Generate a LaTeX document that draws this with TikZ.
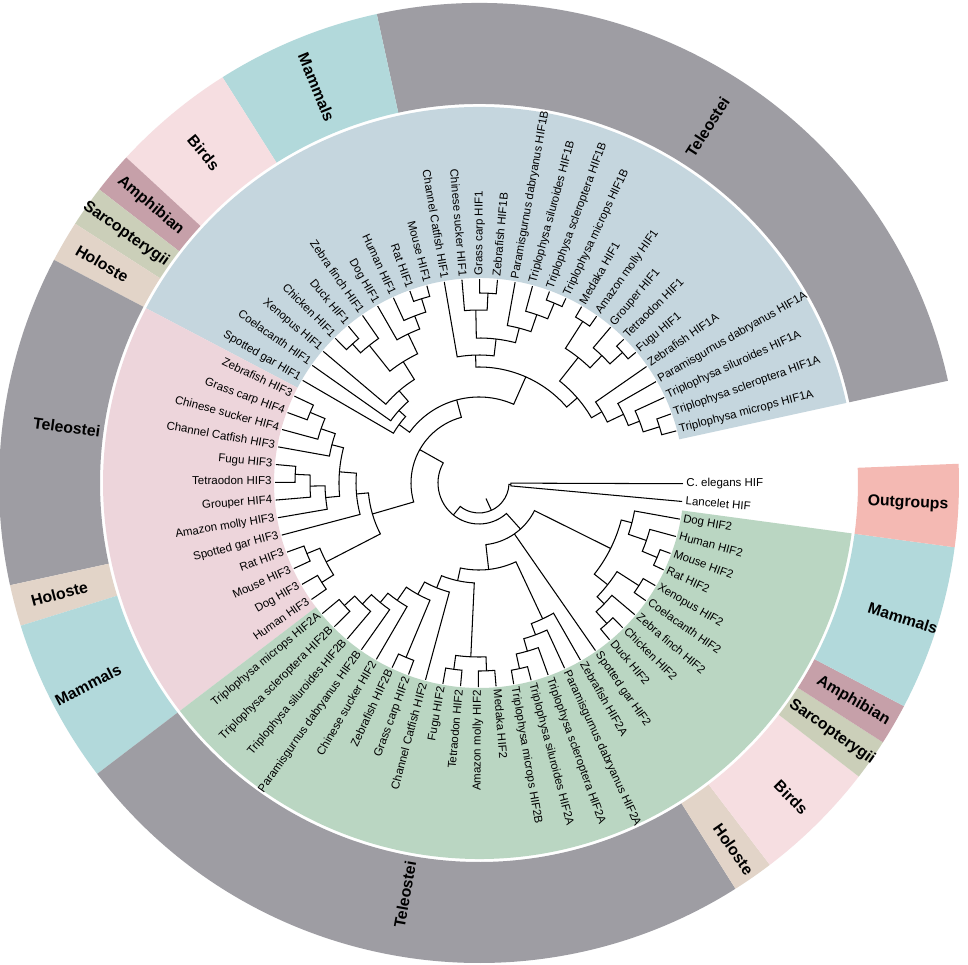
\documentclass[tikz,border=0pt]{standalone}
\usepackage{fontspec}
\setmainfont{Liberation Sans}
\definecolor{secB}{HTML}{C5D6DE}
\definecolor{secP}{HTML}{EDD5DB}
\definecolor{secG}{HTML}{BAD6C2}
\definecolor{rTel}{HTML}{9E9DA3}
\definecolor{rMam}{HTML}{B2D9DB}
\definecolor{rBird}{HTML}{F6DEE1}
\definecolor{rAmph}{HTML}{C6A0A9}
\definecolor{rSarc}{HTML}{CBCFB9}
\definecolor{rHol}{HTML}{E2D4C8}
\definecolor{rOut}{HTML}{F4B9B3}
\tikzset{
  branch/.style={draw=black, line width=1.05pt, line join=miter},
  leaflbl/.style={inner sep=0pt, outer sep=0pt, font=\fontsize{11.5}{13}\selectfont},
  ringlbl/.style={inner sep=0pt, font=\bfseries\fontsize{15.8}{18}\selectfont}
}
\makeatletter
\newcommand\leafR{204}
\newcommand\nang[1]{\csname ta@#1\endcsname}
\newcommand\leaf[3]{%
  \pgfmathsetmacro\lf@a{14.8+5*#2}%
  \expandafter\xdef\csname ta@#1\endcsname{\lf@a}%
  \coordinate (#1) at (\lf@a:\leafR);
  \pgfmathtruncatemacro\lf@flip{(\lf@a>90)&&(\lf@a<270)}%
  \ifnum\lf@flip=1
    \pgfmathsetmacro\lf@rot{\lf@a-180}%
    \node[leaflbl, rotate=\lf@rot, anchor=mid east] (#1-l) at (\lf@a:\leafR+3.5) {#3};
  \else
    \node[leaflbl, rotate=\lf@a, anchor=mid west] (#1-l) at (\lf@a:\leafR+3.5) {#3};
  \fi
}
% \clade[angle override]{name}{child1}{child2}{radius}
\newcommand\clade[5][]{%
  \if\relax\detokenize{#1}\relax
    \pgfmathsetmacro\cl@a{(\nang{#3}+\nang{#4})/2}%
  \else
    \def\cl@a{#1}%
  \fi
  \expandafter\xdef\csname ta@#2\endcsname{\cl@a}%
  \coordinate (#3-b) at (\nang{#3}:#5);
  \coordinate (#4-b) at (\nang{#4}:#5);
  \draw[branch] (#3) -- (#3-b) arc[start angle=\nang{#3}, end angle=\nang{#4}, radius=#5] -- (#4);
  \coordinate (#2) at (\cl@a:#5);
}
% \cladeIII[angle]{name}{c1}{c2}{c3}{radius}
\newcommand\cladeIII[6][]{%
  \if\relax\detokenize{#1}\relax
    \pgfmathsetmacro\cl@a{(\nang{#3}+\nang{#5})/2}%
  \else
    \def\cl@a{#1}%
  \fi
  \expandafter\xdef\csname ta@#2\endcsname{\cl@a}%
  \coordinate (#3-b) at (\nang{#3}:#6);
  \coordinate (#4-b) at (\nang{#4}:#6);
  \coordinate (#5-b) at (\nang{#5}:#6);
  \draw[branch] (#3) -- (#3-b) arc[start angle=\nang{#3}, end angle=\nang{#5}, radius=#6] -- (#5);
  \draw[branch] (#4-b) -- (#4);
  \coordinate (#2) at (\cl@a:#6);
}
\newcommand\sector[5]{%
  \fill[#5] (#1:#3) arc[start angle=#1, end angle=#2, radius=#3] -- (#2:#4) arc[start angle=#2, end angle=#1, radius=#4] -- cycle;
}
% \ringseg{name}{a1}{a2}{colour}{label}{label radius}
\newcommand\ringseg[6]{%
  \sector{#2}{#3}{379}{480}{#4}
  \pgfmathsetmacro\rg@m{(#2+#3)/2}%
  \pgfmathtruncatemacro\rg@f{(\rg@m>90)&&(\rg@m<270)}%
  \ifnum\rg@f=1 \pgfmathsetmacro\rg@r{\rg@m-180}\else\pgfmathsetmacro\rg@r{\rg@m}\fi
  \node[ringlbl, rotate=\rg@r] (#1) at (\rg@m:#6) {#5};
}
\makeatother
\begin{document}
\begin{tikzpicture}[x=1pt,y=1pt]
\fill[white] (-479,-481) rectangle (489,483);
\useasboundingbox (-479,-481) rectangle (489,483);
% inner coloured sectors
\sector{12.3}{152.3}{205}{376}{secB}
\sector{152.3}{217.3}{205}{376}{secP}
\sector{217.3}{352.3}{205}{376}{secG}
% outer ring
\ringseg{g1}{12.3}{102.3}{rTel}{Teleostei}{423}
\ringseg{g2}{102.3}{122.3}{rMam}{Mammals}{428}
\ringseg{g3}{122.3}{137.3}{rBird}{Birds}{430}
\ringseg{g4}{137.3}{142.3}{rAmph}{Amphibian}{430}
\ringseg{g5}{142.3}{147.3}{rSarc}{Sarcopterygii}{432}
\ringseg{g6}{147.3}{152.3}{rHol}{Holoste}{436}
\ringseg{g7}{152.3}{192.3}{rTel}{Teleostei}{416}
\ringseg{g8}{192.3}{197.3}{rHol}{Holoste}{434}
\ringseg{g9}{197.3}{217.3}{rMam}{Mammals}{440}
\ringseg{g10}{217.3}{302.3}{rTel}{Teleostei}{418}
\ringseg{g11}{302.3}{307.3}{rHol}{Holoste}{446}
\ringseg{g12}{307.3}{322.3}{rBird}{Birds}{443}
\ringseg{g13}{322.3}{327.3}{rSarc}{Sarcopterygii}{432}
\ringseg{g14}{327.3}{332.3}{rAmph}{Amphibian}{433}
\ringseg{g15}{332.3}{352.3}{rMam}{Mammals}{445}
\ringseg{g16}{352.3}{362.3}{rOut}{Outgroups}{429.5}
% leaves
\leaf{L0}{0}{Triplophysa microps HIF1A}
\leaf{L1}{1}{Triplophysa scleroptera HIF1A}
\leaf{L2}{2}{Triplophysa siluroides HIF1A}
\leaf{L3}{3}{Paramisgurnus dabryanus HIF1A}
\leaf{L4}{4}{Zebrafish HIF1A}
\leaf{L5}{5}{Fugu HIF1}
\leaf{L6}{6}{Tetraodon HIF1}
\leaf{L7}{7}{Grouper HIF1}
\leaf{L8}{8}{Amazon molly HIF1}
\leaf{L9}{9}{Medaka HIF1}
\leaf{L10}{10}{Triplophysa microps HIF1B}
\leaf{L11}{11}{Triplophysa scleroptera HIF1B}
\leaf{L12}{12}{Triplophysa siluroides HIF1B}
\leaf{L13}{13}{Paramisgurnus dabryanus HIF1B}
\leaf{L14}{14}{Zebrafish HIF1B}
\leaf{L15}{15}{Grass carp HIF1}
\leaf{L16}{16}{Chinese sucker HIF1}
\leaf{L17}{17}{Channel Catfish HIF1}
\leaf{L18}{18}{Mouse HIF1}
\leaf{L19}{19}{Rat HIF1}
\leaf{L20}{20}{Human HIF1}
\leaf{L21}{21}{Dog HIF1}
\leaf{L22}{22}{Zebra finch HIF1}
\leaf{L23}{23}{Duck HIF1}
\leaf{L24}{24}{Chicken HIF1}
\leaf{L25}{25}{Xenopus HIF1}
\leaf{L26}{26}{Coelacanth HIF1}
\leaf{L27}{27}{Spotted gar HIF1}
\leaf{L28}{28}{Zebrafish HIF3}
\leaf{L29}{29}{Grass carp HIF4}
\leaf{L30}{30}{Chinese sucker HIF4}
\leaf{L31}{31}{Channel Catfish HIF3}
\leaf{L32}{32}{Fugu HIF3}
\leaf{L33}{33}{Tetraodon HIF3}
\leaf{L34}{34}{Grouper HIF4}
\leaf{L35}{35}{Amazon molly HIF3}
\leaf{L36}{36}{Spotted gar HIF3}
\leaf{L37}{37}{Rat HIF3}
\leaf{L38}{38}{Mouse HIF3}
\leaf{L39}{39}{Dog HIF3}
\leaf{L40}{40}{Human HIF3}
\leaf{L41}{41}{Triplophysa microps HIF2A}
\leaf{L42}{42}{Triplophysa scleroptera HIF2B}
\leaf{L43}{43}{Triplophysa siluroides HIF2B}
\leaf{L44}{44}{Paramisgurnus dabryanus HIF2B}
\leaf{L45}{45}{Chinese sucker HIF2}
\leaf{L46}{46}{Zebrafish HIF2B}
\leaf{L47}{47}{Grass carp HIF2}
\leaf{L48}{48}{Channel Catfish HIF2}
\leaf{L49}{49}{Fugu HIF2}
\leaf{L50}{50}{Tetraodon HIF2}
\leaf{L51}{51}{Amazon molly HIF2}
\leaf{L52}{52}{Medaka HIF2}
\leaf{L53}{53}{Triplophysa microps HIF2B}
\leaf{L54}{54}{Triplophysa siluroides HIF2A}
\leaf{L55}{55}{Triplophysa scleroptera HIF2A}
\leaf{L56}{56}{Paramisgurnus dabryanus HIF2A}
\leaf{L57}{57}{Zebrafish HIF2A}
\leaf{L58}{58}{Spotted gar HIF2}
\leaf{L59}{59}{Duck HIF2}
\leaf{L60}{60}{Chicken HIF2}
\leaf{L61}{61}{Zebra finch HIF2}
\leaf{L62}{62}{Coelacanth HIF2}
\leaf{L63}{63}{Xenopus HIF2}
\leaf{L64}{64}{Rat HIF2}
\leaf{L65}{65}{Mouse HIF2}
\leaf{L66}{66}{Human HIF2}
\leaf{L67}{67}{Dog HIF2}
\leaf{L68}{68}{Lancelet HIF}
\leaf{L69}{69}{C. elegans HIF}
% HIF1 clade
\clade{a1}{L0}{L1}{189}
\clade{a2}{a1}{L2}{172}
\clade{a3}{a2}{L3}{160}
\clade{a4}{a3}{L4}{142}
\clade{n1}{L5}{L6}{194}
\clade{n2}{n1}{L7}{177}
\clade{n3}{L8}{L9}{192}
\clade{n4}{n2}{n3}{160}
\clade{A1}{a4}{n4}{130}
\clade{b1}{L10}{L11}{195}
\clade{b2}{b1}{L12}{178}
\clade{b3}{b2}{L13}{160}
\clade{b4}{L14}{L15}{190}
\clade{b5}{b4}{L16}{173}
\clade{b6}{b3}{b5}{145}
\clade{B1}{b6}{L17}{128}
\clade{T1}{A1}{B1}{116}
\clade{m1}{L18}{L19}{193}
\clade{m2}{m1}{L20}{179}
\clade{m3}{m2}{L21}{165}
\clade{v1}{L23}{L24}{188}
\clade{v2}{L22}{v1}{176}
\clade{tA}{m3}{v2}{143}
\clade{tB}{tA}{L25}{122}
\clade{tC}{tB}{L26}{108}
\clade{HIt}{tC}{L27}{99}
\clade{HIFa}{T1}{HIt}{86}
% HIF3 clade
\clade{h1}{L28}{L29}{183}
\clade{h2}{h1}{L30}{167}
\clade{h3}{h2}{L31}{152}
\clade{h4}{L32}{L33}{184}
\clade{h5}{h4}{L34}{169}
\clade{h6}{h5}{L35}{154}
\clade{h7}{h3}{h6}{140}
\clade{h8}{h7}{L36}{123}
\clade{hm1}{L37}{L38}{186}
\clade{hm2}{L39}{L40}{186}
\clade{hm3}{hm1}{hm2}{172}
\clade{HIFc}{h8}{hm3}{111}
\clade{HIFac}{HIFa}{HIFc}{68}
% HIF2 clade
\clade{c1}{L41}{L42}{182}
\clade{c2}{c1}{L43}{168}
\clade{c3}{c2}{L44}{155}
\clade{c4}{c3}{L45}{143}
\clade{c5}{L46}{L47}{189}
\clade{c6}{c4}{c5}{127}
\clade{c7}{c6}{L48}{113}
\clade{f1}{L49}{L50}{188}
\clade{f2}{L51}{L52}{188}
\clade{f3}{f1}{f2}{174}
\clade{c8}{c7}{f3}{100}
\clade{d1}{L53}{L54}{190}
\clade{d2}{d1}{L55}{175}
\clade{d3}{d2}{L56}{162}
\clade{d4}{d3}{L57}{150}
\clade{THb}{c8}{d4}{87}
\clade{e1}{L59}{L60}{190}
\clade{e2}{e1}{L61}{174}
\clade{x1}{L62}{L63}{190}
\clade{bx}{e2}{x1}{164}
\clade{mm1}{L64}{L65}{193}
\clade{mm2}{mm1}{L66}{177}
\clade{mm3}{mm2}{L67}{158}
\clade{TTb}{bx}{mm3}{147}
\cladeIII[312]{HIFb}{THb}{L58}{TTb}{62}
\clade{ING}{HIFac}{HIFb}{41}
\clade{OG}{L68}{L69}{32}
\clade{ROOT}{ING}{OG}{30}
\coordinate (rootin) at (\nang{ROOT}:17);
\draw[branch] (rootin) -- (ROOT);
\end{tikzpicture}
\end{document}
